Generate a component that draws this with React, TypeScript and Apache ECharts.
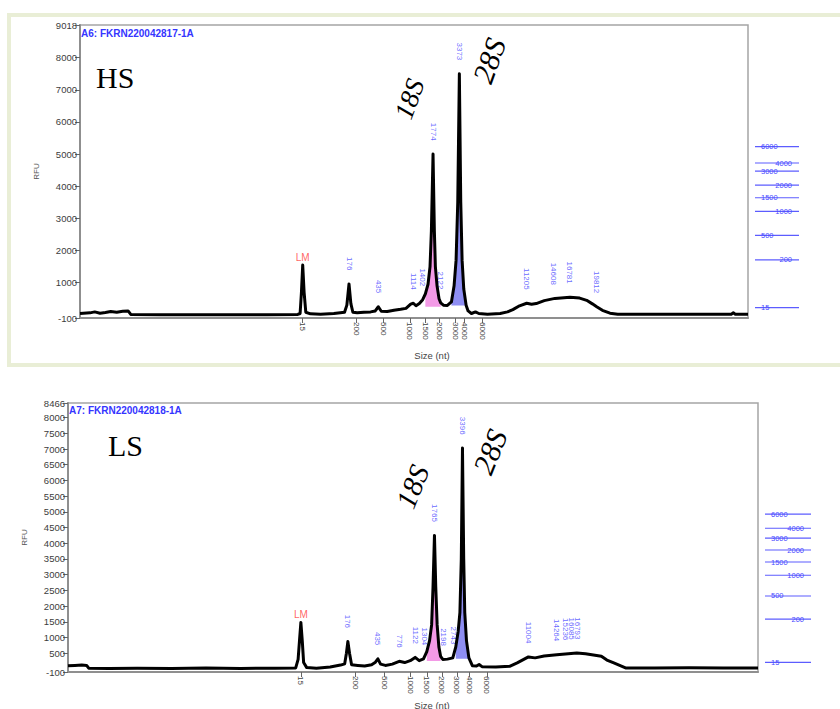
import { useEffect, useRef } from 'react';
import * as echarts from 'echarts';

// Ladder sizes (nt) and their migration positions on each run
const ladderSizes = ['15', '200', '500', '1000', '1500', '2000', '3000', '4000', '6000'];
const hsLadderPos = [33.34, 41.32, 45.41, 49.4, 51.69, 53.79, 56.14, 57.49, 60.22];
const lsLadderPos = [33.75, 41.62, 45.82, 49.59, 52.0, 54.18, 56.35, 58.14, 60.7];

// RFU tick values
const hsRfuTicks = [-100, 1000, 2000, 3000, 4000, 5000, 6000, 7000, 8000, 9018];
const lsRfuTicks = [-100, 500, 1000, 1500, 2000, 2500, 3000, 3500, 4000, 4500, 5000, 5500, 6000, 6500, 7000, 7500, 8000, 8466];

// Electropherogram traces: [migration, RFU]
const hsTrace: [number, number][] = [
  [0, 40], [1.5, 60], [2.2, 90], [3.0, 50], [3.8, 70], [4.6, 100], [5.5, 80], [6.4, 110], [7.2, 120], [7.6, 10],
  [12, 0], [20, 5], [28, 0], [32.6, 10], [32.95, 40], [33.15, 700], [33.34, 1550], [33.55, 700], [33.8, 80],
  [34.5, 30], [36, 20], [38, 40], [39.6, 80], [39.95, 300], [40.27, 960], [40.55, 350], [40.85, 80], [41.5, 60],
  [42.5, 80], [43.5, 90], [44.2, 120], [44.66, 250], [45.1, 110], [46, 100], [47, 140], [48, 170], [48.8, 200],
  [49.5, 330], [49.9, 360], [50.3, 280], [50.8, 350], [51.3, 470], [51.7, 650], [52.1, 950], [52.4, 1500],
  [52.6, 2600], [52.85, 5000], [53.05, 2600], [53.2, 1500], [53.45, 900], [53.75, 500], [54.0, 370], [54.4, 300],
  [55.0, 290], [55.6, 400], [56.0, 900], [56.3, 1700], [56.55, 3500], [56.79, 7500], [57.0, 3500], [57.2, 1700],
  [57.45, 800], [57.8, 300], [58.1, 120], [58.6, 40], [59.2, 90], [59.7, 40], [61, 20], [62.9, 40], [64, 90],
  [64.8, 160], [65.8, 280], [66.87, 360], [67.6, 330], [68.3, 350], [69.5, 440], [71.1, 510], [73.35, 545],
  [74.8, 520], [75.85, 450], [76.7, 340], [77.35, 250], [78.2, 140], [79.34, 50], [80.5, 20], [85, 15], [90, 20],
  [97.5, 20], [97.8, 60], [98.1, 20], [100, 20],
];

const lsTrace: [number, number][] = [
  [0, 100], [1, 110], [2, 120], [2.7, 110], [3.0, 20], [6, 10], [10, 20], [15, 10], [20, 25], [25, 15], [30, 20],
  [33.0, 30], [33.35, 300], [33.55, 900], [33.75, 1480], [33.95, 900], [34.15, 200], [34.6, 40], [36, 20], [38, 60],
  [39.5, 120], [40.1, 160], [40.35, 500], [40.56, 870], [40.8, 500], [41.1, 130], [42, 110], [43, 90], [44.0, 130],
  [44.5, 200], [44.91, 320], [45.3, 150], [46, 110], [47, 150], [48.0, 240], [48.8, 200], [49.6, 260], [50.31, 365],
  [50.9, 260], [51.52, 320], [52.0, 550], [52.4, 900], [52.7, 1400], [52.9, 2600], [53.11, 4250], [53.3, 2600],
  [53.5, 1400], [53.75, 700], [54.0, 400], [54.32, 300], [55.0, 310], [55.77, 350], [56.2, 700], [56.55, 1200],
  [56.8, 1800], [57.0, 3500], [57.17, 7030], [57.35, 3500], [57.5, 1800], [57.75, 900], [58.1, 350], [58.6, 100],
  [59.2, 90], [59.58, 140], [60.0, 70], [62, 60], [64, 80], [65.1, 190], [66.73, 380], [67.7, 350], [69, 410],
  [70.84, 450], [73.74, 505], [75, 480], [77.3, 400], [78.1, 280], [79.1, 190], [80.8, 30], [85, 30], [90, 35],
  [95, 30], [100, 30],
];

// Called peaks: [migration, RFU, size label]
const hsPeaks: [number, number, string][] = [
  [40.27, 960, '176'], [44.66, 250, '435'], [49.9, 360, '1114'], [51.3, 470, '1402'], [52.85, 5000, '1774'],
  [54.0, 370, '2122'], [56.79, 7500, '3373'], [66.87, 360, '11205'], [70.9, 510, '14608'], [73.35, 545, '16781'],
  [77.35, 250, '19812'],
];
const lsPeaks: [number, number, string][] = [
  [40.56, 870, '176'], [44.91, 320, '435'], [48.0, 240, '776'], [50.31, 365, '1122'], [51.6, 320, '1304'],
  [53.11, 4250, '1765'], [54.4, 300, '2198'], [55.8, 350, '2743'], [57.17, 7030, '3396'], [66.73, 380, '11004'],
  [70.84, 450, '14264'], [72.04, 480, '15236'], [72.9, 495, '16085'], [73.87, 505, '16793'],
];
const hsMarker: [number, number, string][] = [[33.34, 1550, 'LM']];
const lsMarker: [number, number, string][] = [[33.75, 1480, 'LM']];

// Integrated rRNA peak windows: [from, to, baseline RFU]
const hs18S = [51.7, 54.0, 250];
const hs28S = [55.6, 57.8, 290];
const ls18S = [51.9, 54.2, 250];
const ls28S = [55.8, 58.1, 320];

const sansFont = '"Liberation Sans", Arial, sans-serif';
const serifFont = '"Liberation Serif", "Times New Roman", serif';
const peakBlue = '#3f3fff';

function span(trace: [number, number][], w: number[]) {
  return trace.filter((p) => p[0] >= w[0] && p[0] <= w[1]);
}

function sizeAt(pos: number[], v: number) {
  let best = 0;
  pos.forEach((p, i) => {
    if (Math.abs(p - v) < Math.abs(pos[best] - v)) best = i;
  });
  return ladderSizes[best];
}

function mainAxes(grid: number, pos: number[], ticks: number[], max: number) {
  const x = {
    gridIndex: grid,
    type: 'value',
    min: 0,
    max: 100,
    axisLine: { onZero: false, lineStyle: { color: '#8f8f8f', width: 2 } },
    axisTick: { show: true, customValues: pos, length: 5, lineStyle: { color: '#666' } },
    axisLabel: {
      customValues: pos,
      rotate: -90,
      fontSize: 8,
      color: '#444',
      margin: 4,
      fontFamily: sansFont,
      formatter: (v: number) => sizeAt(pos, v),
    },
    splitLine: { show: false },
  };
  const y = {
    gridIndex: grid,
    type: 'value',
    min: -100,
    max,
    axisLine: { show: true, lineStyle: { color: '#8f8f8f', width: 2 } },
    axisTick: { show: true, customValues: ticks, length: 5, lineStyle: { color: '#666' } },
    axisLabel: {
      customValues: ticks, fontSize: 9.5, color: '#3c3c3c', margin: 3, fontFamily: sansFont,
      formatter: (v: number) => String(v),
    },
    splitLine: { show: false },
    name: 'RFU',
    nameLocation: 'middle',
    nameGap: 40,
    nameRotate: 90,
    nameTextStyle: { fontSize: 8, color: '#555', fontFamily: sansFont },
  };
  return { x, y };
}

function laneAxes(grid: number) {
  return {
    x: { gridIndex: grid, type: 'value', min: 0, max: 1, show: false },
    y: { gridIndex: grid, type: 'value', min: 32, max: 62, show: false },
  };
}

function runSeries(idx: number, trace: [number, number][], peaks: [number, number, string][],
  marker: [number, number, string][], w18: number[], w28: number[]) {
  return [
    {
      type: 'line', xAxisIndex: idx, yAxisIndex: idx, data: span(trace, w18), showSymbol: false, silent: true,
      lineStyle: { width: 0 }, areaStyle: { color: '#f39ae6', origin: w18[2], opacity: 1 },
    },
    {
      type: 'line', xAxisIndex: idx, yAxisIndex: idx, data: span(trace, w28), showSymbol: false, silent: true,
      lineStyle: { width: 0 }, areaStyle: { color: '#8e8ef2', origin: w28[2], opacity: 1 },
    },
    {
      type: 'line', xAxisIndex: idx, yAxisIndex: idx, data: trace, showSymbol: false, silent: true,
      lineStyle: { color: '#000', width: 3, join: 'round' },
    },
    {
      type: 'scatter', xAxisIndex: idx, yAxisIndex: idx, data: peaks, symbolSize: 1, silent: true,
      itemStyle: { color: 'transparent' },
      label: {
        show: true, position: 'top', distance: 13, rotate: -90, align: 'right', verticalAlign: 'middle',
        fontSize: 8, color: peakBlue, fontFamily: sansFont,
        formatter: (p: any) => p.data[2],
      },
    },
    {
      type: 'scatter', xAxisIndex: idx, yAxisIndex: idx, data: marker, symbolSize: 1, silent: true,
      itemStyle: { color: 'transparent' },
      label: {
        show: true, position: 'top', distance: 2, fontSize: 10, color: '#ff3b3b', fontFamily: sansFont,
        formatter: (p: any) => p.data[2],
      },
    },
  ];
}

function laneSeries(idx: number, pos: number[]) {
  return {
    type: 'custom', xAxisIndex: idx, yAxisIndex: idx, silent: true,
    data: pos.map((p, i) => [0, p, i]),
    renderItem: (params: any, api: any) => {
      const y = api.coord([0, api.value(1)])[1];
      const cs = params.coordSys;
      const i = api.value(2);
      const left = i % 2 === 0;
      return {
        type: 'group',
        children: [
          {
            type: 'text',
            style: {
              text: ladderSizes[i], x: left ? cs.x + 6 : cs.x + cs.width - 7, y,
              align: left ? 'left' : 'right', verticalAlign: 'middle',
              fill: '#4a4aff', fontSize: 7.5, fontFamily: sansFont,
            },
          },
          {
            type: 'line',
            shape: { x1: cs.x, y1: y, x2: cs.x + cs.width, y2: y },
            style: { stroke: '#4a4aff', lineWidth: 1.2, opacity: 0.9 },
          },
        ],
      };
    },
  };
}

export default function App() {
  const ref = useRef<HTMLDivElement>(null);

  useEffect(() => {
    if (!ref.current) return;
    const chart = echarts.init(ref.current, undefined, { renderer: 'svg' });

    const hsMain = mainAxes(0, hsLadderPos, hsRfuTicks, 9018);
    const lsMain = mainAxes(1, lsLadderPos, lsRfuTicks, 8466);
    const hsLane = laneAxes(2);
    const lsLane = laneAxes(3);

    const rankText = (x: number, y: number, text: string, size: number, deg: number) => ({
      type: 'text', x, y, rotation: (deg * Math.PI) / 180,
      style: {
        text, fill: '#000', align: 'center', verticalAlign: 'middle',
        font: `italic ${size}px ${serifFont}`,
      },
    });

    chart.setOption({
      animation: false,
      backgroundColor: '#fff',
      title: [
        { text: 'A6: FKRN220042817-1A', left: 81, top: 28, padding: 0,
          textStyle: { fontSize: 10, fontWeight: 'bold', color: '#3535ff', fontFamily: sansFont } },
        { text: 'HS', left: 96, top: 62, padding: 0,
          textStyle: { fontSize: 30, fontWeight: 'normal', color: '#000', fontFamily: serifFont } },
        { text: 'A7: FKRN220042818-1A', left: 69, top: 405, padding: 0,
          textStyle: { fontSize: 10, fontWeight: 'bold', color: '#3535ff', fontFamily: sansFont } },
        { text: 'LS', left: 108, top: 430, padding: 0,
          textStyle: { fontSize: 30, fontWeight: 'normal', color: '#000', fontFamily: serifFont } },
      ],
      grid: [
        { left: 80, top: 25, width: 668, height: 293, show: true, borderColor: '#a5a5a5', borderWidth: 1.5 },
        { left: 68, top: 403, width: 690, height: 269, show: true, borderColor: '#a5a5a5', borderWidth: 1.5 },
        { left: 755, top: 136, width: 44, height: 179.7 },
        { left: 765, top: 507, width: 46, height: 165 },
      ],
      xAxis: [hsMain.x, lsMain.x, hsLane.x, lsLane.x],
      yAxis: [hsMain.y, lsMain.y, hsLane.y, lsLane.y],
      series: [
        ...runSeries(0, hsTrace, hsPeaks, hsMarker, hs18S, hs28S),
        ...runSeries(1, lsTrace, lsPeaks, lsMarker, ls18S, ls28S),
        laneSeries(2, hsLadderPos),
        laneSeries(3, lsLadderPos),
      ],
      graphic: [
        { type: 'rect', z: -10, shape: { x: 9, y: 15, width: 850, height: 350 },
          style: { fill: 'none', stroke: '#e9eed6', lineWidth: 4 } },
        { type: 'text', x: 432, y: 355,
          style: { text: 'Size (nt)', fill: '#444', fontSize: 9.5, fontFamily: sansFont, align: 'center', verticalAlign: 'middle' } },
        { type: 'text', x: 432, y: 705,
          style: { text: 'Size (nt)', fill: '#444', fontSize: 9.5, fontFamily: sansFont, align: 'center', verticalAlign: 'middle' } },
        rankText(409.5, 99, '18S', 27, 70),
        rankText(489, 60.5, '28S', 30, 70),
        rankText(412.5, 486.5, '18S', 29, 68),
        rankText(490, 451.7, '28S', 30, 68),
      ],
    });

    return () => chart.dispose();
  }, []);

  return (
    <div
      ref={ref}
      style={{ position: 'fixed', left: 0, top: 0, width: 840, height: 709, background: '#fff' }}
    />
  );
}
